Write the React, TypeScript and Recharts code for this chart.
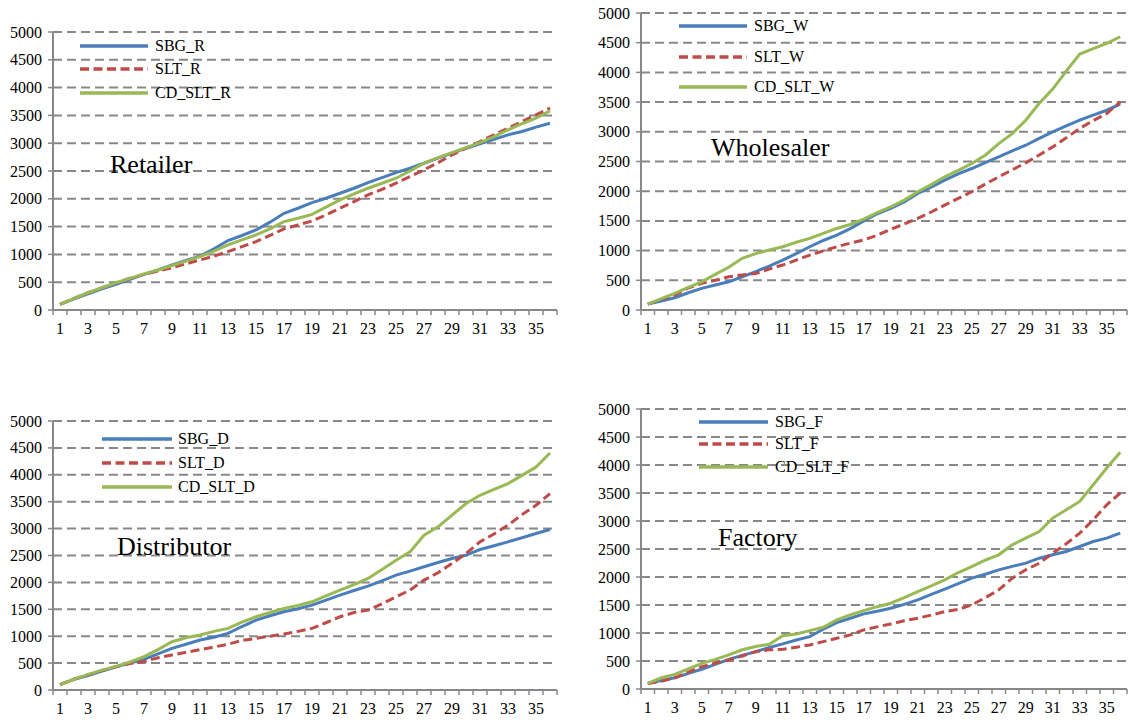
import React from "react";
import { LineChart, Line, XAxis, YAxis, CartesianGrid, Legend } from "recharts";

// periods on the x axis
const periods = [
  1, 2, 3, 4, 5, 6, 7, 8, 9, 10, 11, 12, 13, 14, 15, 16, 17, 18,
  19, 20, 21, 22, 23, 24, 25, 26, 27, 28, 29, 30, 31, 32, 33, 34, 35, 36,
];
const xTicks = [1, 3, 5, 7, 9, 11, 13, 15, 17, 19, 21, 23, 25, 27, 29, 31, 33, 35];
const yTicks = [0, 500, 1000, 1500, 2000, 2500, 3000, 3500, 4000, 4500, 5000];

// Retailer
const sbgR = [100, 200, 290, 380, 460, 550, 640, 720, 810, 890, 970, 1100, 1250, 1340, 1440, 1580, 1740, 1830, 1930, 2010, 2100, 2190, 2290, 2380, 2470, 2550, 2640, 2730, 2820, 2910, 2990, 3070, 3150, 3210, 3290, 3360];
const sltR = [100, 210, 310, 400, 490, 570, 640, 700, 760, 830, 900, 970, 1050, 1140, 1230, 1340, 1460, 1530, 1600, 1710, 1830, 1950, 2070, 2170, 2280, 2400, 2520, 2650, 2790, 2910, 3030, 3150, 3270, 3390, 3510, 3630];
const cdR = [100, 210, 310, 400, 490, 570, 650, 720, 800, 880, 960, 1060, 1170, 1260, 1350, 1460, 1590, 1650, 1720, 1850, 1980, 2090, 2190, 2280, 2370, 2500, 2640, 2740, 2830, 2920, 3010, 3120, 3240, 3350, 3450, 3580];

// Wholesaler
const sbgW = [100, 150, 207, 290, 365, 420, 475, 560, 645, 740, 840, 950, 1065, 1170, 1260, 1370, 1500, 1620, 1710, 1820, 1962, 2070, 2186, 2290, 2382, 2480, 2578, 2680, 2774, 2890, 2999, 3100, 3195, 3280, 3363, 3464];
const sltW = [100, 180, 250, 370, 450, 500, 560, 590, 615, 690, 757, 840, 925, 995, 1065, 1125, 1180, 1260, 1356, 1450, 1541, 1650, 1766, 1880, 1990, 2120, 2242, 2360, 2477, 2610, 2746, 2900, 3055, 3190, 3307, 3503];
const cdW = [100, 190, 280, 380, 475, 600, 720, 870, 950, 1010, 1065, 1140, 1205, 1290, 1373, 1440, 1530, 1640, 1738, 1850, 1990, 2110, 2242, 2350, 2466, 2606, 2802, 2970, 3195, 3480, 3720, 4020, 4310, 4400, 4490, 4600];

// Distributor
const sbgD = [100, 200, 270, 350, 430, 500, 570, 670, 774, 850, 928, 980, 1052, 1180, 1300, 1380, 1454, 1510, 1578, 1670, 1764, 1850, 1930, 2030, 2135, 2210, 2290, 2370, 2444, 2506, 2611, 2680, 2754, 2830, 2908, 2983];
const sltD = [100, 200, 280, 360, 433, 490, 530, 600, 650, 700, 750, 800, 850, 920, 959, 1000, 1040, 1090, 1145, 1250, 1361, 1440, 1485, 1600, 1733, 1856, 2042, 2178, 2351, 2537, 2754, 2900, 3063, 3260, 3434, 3651];
const cdD = [100, 200, 290, 370, 440, 520, 619, 750, 897, 970, 1021, 1090, 1145, 1260, 1361, 1440, 1516, 1570, 1640, 1750, 1856, 1960, 2073, 2240, 2413, 2568, 2877, 3032, 3249, 3465, 3620, 3730, 3837, 3990, 4146, 4406];

// Factory
const sbgF = [100, 150, 200, 280, 352, 440, 530, 600, 667, 740, 805, 876, 936, 1067, 1186, 1264, 1341, 1390, 1442, 1510, 1591, 1690, 1782, 1880, 1979, 2050, 2128, 2190, 2247, 2336, 2396, 2455, 2545, 2634, 2694, 2783];
const sltF = [100, 140, 200, 300, 400, 460, 518, 590, 667, 700, 710, 745, 787, 846, 906, 966, 1055, 1110, 1162, 1220, 1264, 1320, 1383, 1420, 1502, 1630, 1770, 1979, 2128, 2247, 2426, 2593, 2783, 3022, 3290, 3498];
const cdF = [100, 200, 260, 360, 459, 530, 608, 700, 760, 800, 950, 983, 1043, 1103, 1234, 1323, 1400, 1470, 1532, 1630, 1740, 1840, 1949, 2080, 2187, 2300, 2396, 2575, 2694, 2813, 3052, 3200, 3350, 3648, 3945, 4226];

const FONT = "'Liberation Serif', 'Times New Roman', serif";
const BLUE = "#4a7ebb";
const RED = "#be4b48";
const GREEN = "#98b954";
const GRAY = "#888888";
const SERIES_ORDER = ["sbg", "slt", "cd"];

const buildRows = (a: number[], b: number[], c: number[]) =>
  periods.map((p, i) => ({ period: p, sbg: a[i], slt: b[i], cd: c[i] }));

interface PanelProps {
  left: number;
  top: number;
  width: number;
  height: number;
  marginTop: number;
  yAxisWidth: number;
  rows: { period: number; sbg: number; slt: number; cd: number }[];
  names: string[];
  legendLeft: number;
  legendTop: number;
  legendGap: number;
  lineLen: number;
  textGap: number;
}

const Panel: React.FC<PanelProps> = ({
  left,
  top,
  width,
  height,
  marginTop,
  yAxisWidth,
  rows,
  names,
  legendLeft,
  legendTop,
  legendGap,
  lineLen,
  textGap,
}) => {
  const xAxisHeight = 30;
  const marginRight = 1;
  const plotW = width - yAxisWidth - marginRight;
  const step = plotW / 36;
  const axisY = height - xAxisHeight;

  const renderXTick = (props: any) => {
    const { x, payload } = props;
    const marks = [x - step / 2, x + step / 2];
    if (payload.value === 35) marks.push(x + step * 1.5);
    return (
      <g>
        {marks.map((m, i) => (
          <line key={i} x1={m} x2={m} y1={axisY} y2={axisY + 5} stroke={GRAY} strokeWidth={1.5} />
        ))}
        <text
          x={x}
          y={axisY + 24}
          textAnchor="middle"
          style={{ fontFamily: FONT, fontSize: 16, fill: "#000" }}
        >
          {payload.value}
        </text>
      </g>
    );
  };

  const renderYTick = (props: any) => {
    const { y, payload } = props;
    const ax = yAxisWidth;
    return (
      <g>
        <line x1={ax - 5} x2={ax} y1={y} y2={y} stroke={GRAY} strokeWidth={1.5} />
        <text
          x={ax - 11}
          y={y + 5.5}
          textAnchor="end"
          style={{ fontFamily: FONT, fontSize: 16, fill: "#000" }}
        >
          {payload.value}
        </text>
      </g>
    );
  };

  const renderLegend = (props: any) => {
    const payload = [...(props.payload || [])].sort(
      (a: any, b: any) => SERIES_ORDER.indexOf(a.dataKey) - SERIES_ORDER.indexOf(b.dataKey)
    );
    return (
      <div>
        {payload.map((entry: any, i: number) => (
          <div
            key={i}
            style={{ display: "flex", alignItems: "center", height: legendGap, whiteSpace: "nowrap" }}
          >
            <svg width={lineLen} height={6} style={{ display: "block" }}>
              <line
                x1={0}
                x2={lineLen}
                y1={3}
                y2={3}
                stroke={entry.color}
                strokeWidth={3.5}
                strokeDasharray={entry.dataKey === "slt" ? "9 4.5" : undefined}
              />
            </svg>
            <span style={{ marginLeft: textGap, fontFamily: FONT, fontSize: 16, color: "#000", lineHeight: 1 }}>
              {entry.value}
            </span>
          </div>
        ))}
      </div>
    );
  };

  return (
    <div style={{ position: "absolute", left, top }}>
      <LineChart
        width={width}
        height={height}
        data={rows}
        margin={{ top: marginTop, right: marginRight, bottom: 0, left: 0 }}
      >
        <CartesianGrid vertical={false} stroke={GRAY} strokeWidth={2} strokeDasharray="9 5" />
        <XAxis
          dataKey="period"
          type="number"
          domain={[0.5, 36.5]}
          ticks={xTicks}
          interval={0}
          height={xAxisHeight}
          axisLine={{ stroke: GRAY, strokeWidth: 2 }}
          tickLine={false}
          tick={renderXTick}
        />
        <YAxis
          domain={[0, 5000]}
          ticks={yTicks}
          interval={0}
          width={yAxisWidth}
          axisLine={{ stroke: GRAY, strokeWidth: 2 }}
          tickLine={false}
          tick={renderYTick}
        />
        <Legend
          layout="vertical"
          align="center"
          verticalAlign="middle"
          content={renderLegend}
          wrapperStyle={{ left: legendLeft, top: legendTop, width: 220 }}
        />
        <Line
          type="linear"
          dataKey="sbg"
          name={names[0]}
          stroke={BLUE}
          strokeWidth={3}
          dot={false}
          isAnimationActive={false}
        />
        <Line
          type="linear"
          dataKey="slt"
          name={names[1]}
          stroke={RED}
          strokeWidth={3}
          strokeDasharray="9 4.5"
          dot={false}
          isAnimationActive={false}
        />
        <Line
          type="linear"
          dataKey="cd"
          name={names[2]}
          stroke={GREEN}
          strokeWidth={3}
          dot={false}
          isAnimationActive={false}
        />
      </LineChart>
    </div>
  );
};

const titles = [
  { text: "Retailer", x: 110, y: 173 },
  { text: "Wholesaler", x: 711, y: 156 },
  { text: "Distributor", x: 117, y: 555 },
  { text: "Factory", x: 718, y: 546 },
];

const App: React.FC = () => {
  return (
    <div style={{ position: "absolute", left: 0, top: 0, width: 1128, height: 722, background: "#fff" }}>
      <Panel
        left={0}
        top={0}
        width={558}
        height={340}
        marginTop={32}
        yAxisWidth={53}
        rows={buildRows(sbgR, sltR, cdR)}
        names={["SBG_R", "SLT_R", "CD_SLT_R"]}
        legendLeft={80}
        legendTop={34}
        legendGap={23.5}
        lineLen={68}
        textGap={7}
      />
      <Panel
        left={580}
        top={0}
        width={548}
        height={340}
        marginTop={13}
        yAxisWidth={61}
        rows={buildRows(sbgW, sltW, cdW)}
        names={["SBG_W", "SLT_W", "CD_SLT_W"]}
        legendLeft={99}
        legendTop={10.5}
        legendGap={30.8}
        lineLen={68}
        textGap={7}
      />
      <Panel
        left={0}
        top={390}
        width={558}
        height={330}
        marginTop={31}
        yAxisWidth={53}
        rows={buildRows(sbgD, sltD, cdD)}
        names={["SBG_D", "SLT_D", "CD_SLT_D"]}
        legendLeft={102}
        legendTop={37}
        legendGap={24}
        lineLen={70}
        textGap={6}
      />
      <Panel
        left={580}
        top={390}
        width={548}
        height={329}
        marginTop={19}
        yAxisWidth={61}
        rows={buildRows(sbgF, sltF, cdF)}
        names={["SBG_F", "SLT_F", "CD_SLT_F"]}
        legendLeft={119}
        legendTop={20.5}
        legendGap={22.5}
        lineLen={69}
        textGap={7}
      />
      <svg
        width={1128}
        height={722}
        style={{ position: "absolute", left: 0, top: 0, pointerEvents: "none" }}
      >
        {titles.map((t) => (
          <text key={t.text} x={t.x} y={t.y} style={{ fontFamily: FONT, fontSize: 26, fill: "#000" }}>
            {t.text}
          </text>
        ))}
      </svg>
    </div>
  );
};

export default App;
